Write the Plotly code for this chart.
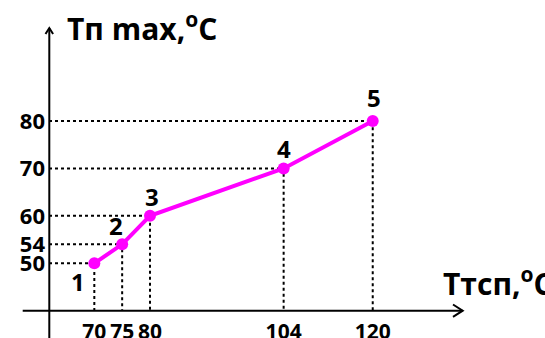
import plotly.graph_objects as go

# data
t_tsp = [70, 75, 80, 104, 120]      # Ттсп, °C
t_max = [50, 54, 60, 70, 80]        # Тп max, °C
point_labels = ["1", "2", "3", "4", "5"]

# label offsets (px) relative to each point
label_dx = [-16, -6, 2, 0, 1]
label_dy = [-18, 19, 19, 20, 23]

W, H = 545, 338
L, B = 49, 27
X_RANGE = [61.86, 150.94]
Y_RANGE = [39.94, 105.51]
FONT = "Open Sans"


def px(x):
    # pixel -> paper x
    return (x - L) / (W - L)


def py(y):
    # pixel -> paper y
    return (H - B - y) / (H - B)


fig = go.Figure()

# dotted guide lines from the axes to every point
for x, y in zip(t_tsp, t_max):
    fig.add_trace(go.Scatter(
        x=[X_RANGE[0], x, x], y=[y, y, Y_RANGE[0]],
        mode="lines", line=dict(color="black", width=2, dash="3px,3px"),
        hoverinfo="skip", showlegend=False))

# the curve
fig.add_trace(go.Scatter(
    x=t_tsp, y=t_max, mode="lines+markers",
    line=dict(color="#ff00ff", width=4),
    marker=dict(color="#ff00ff", size=12),
    showlegend=False))

# point numbers
for x, y, lab, dx, dy in zip(t_tsp, t_max, point_labels, label_dx, label_dy):
    fig.add_annotation(x=x, y=y, text=lab, showarrow=False,
                       xshift=dx, yshift=dy,
                       font=dict(family=FONT, size=24, color="black", weight="bold"))

# axis titles
fig.add_annotation(xref="paper", yref="paper", x=px(65), y=py(27),
                   xanchor="left", yanchor="middle", showarrow=False,
                   text="Тп max,<sup>o</sup>C",
                   font=dict(family=FONT, size=30, color="black", weight="bold"))
fig.add_annotation(xref="paper", yref="paper", x=px(441), y=py(282),
                   xanchor="left", yanchor="middle", showarrow=False,
                   text="Ттсп,<sup>o</sup>C",
                   font=dict(family=FONT, size=30, color="black", weight="bold"))

axis_line = dict(color="black", width=2)
shapes = [
    # y axis with open arrow head
    dict(type="line", xref="paper", yref="paper",
         x0=px(49.3), x1=px(49.3), y0=py(338), y1=py(28), line=axis_line),
    dict(type="path", xref="paper", yref="paper", line=axis_line,
         path=f"M {px(45.5)},{py(34)} L {px(49.3)},{py(28)} L {px(53.1)},{py(34)}"),
    # x axis with open arrow head
    dict(type="line", xref="paper", yref="paper",
         x0=px(22.7), x1=px(462.7), y0=py(310.7), y1=py(310.7), line=axis_line),
    dict(type="path", xref="paper", yref="paper", line=axis_line,
         path=f"M {px(453)},{py(304.5)} L {px(462.7)},{py(310.7)} L {px(453)},{py(316.9)}"),
]

fig.update_layout(
    width=W, height=H,
    margin=dict(l=L, r=0, t=0, b=B),
    paper_bgcolor="white", plot_bgcolor="white",
    shapes=shapes,
    xaxis=dict(range=X_RANGE, showgrid=False, zeroline=False, showline=False,
               tickvals=t_tsp, ticks="", tickangle=0, automargin=False,
               ticklabelstandoff=6,
               tickfont=dict(family=FONT, size=21, color="black", weight="bold")),
    yaxis=dict(range=Y_RANGE, showgrid=False, zeroline=False, showline=False,
               tickvals=t_max, ticks="", automargin=False,
               ticklabelstandoff=3,
               tickfont=dict(family=FONT, size=22, color="black", weight="bold")),
)

# page body has a default 8px margin; drop it so the chart sits at 0,0
fig.write_html("out.html", config={"displayModeBar": False},
               post_script="document.body.style.margin='0';")
